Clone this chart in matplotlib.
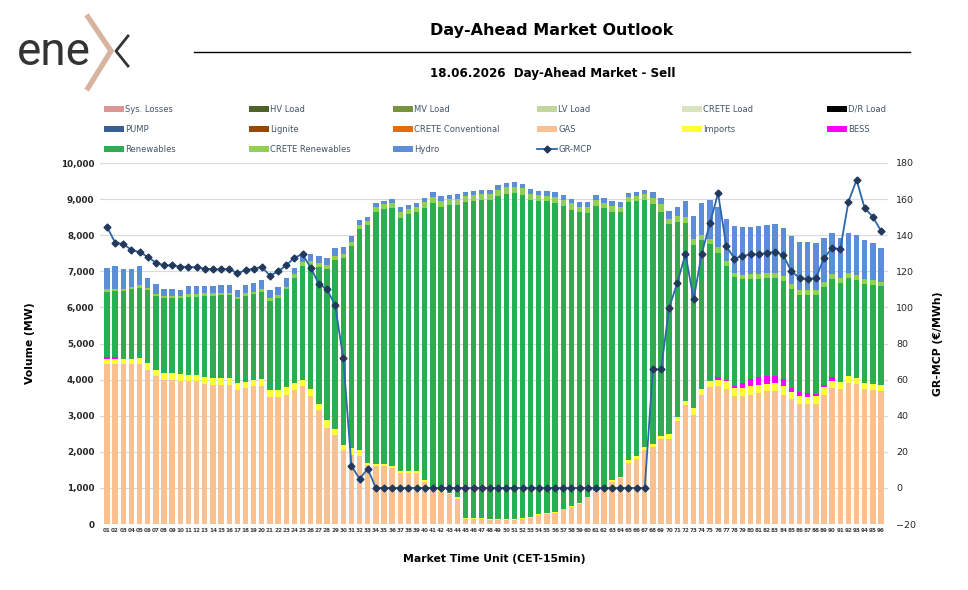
import matplotlib
matplotlib.use("Agg")
import matplotlib.pyplot as plt
from matplotlib.lines import Line2D
from matplotlib.patches import Patch

# ---------------- data ----------------
mtu = [f"{i:02d}" for i in range(1, 97)]

gas = [4420, 4420, 4420, 4420, 4420, 4260, 4090, 4000, 4000, 3960, 3950, 3950,
       3890, 3860, 3860, 3860, 3700, 3760, 3815, 3830, 3520, 3520, 3580, 3700,
       3815, 3555, 3150, 2660, 2470, 2055, 1915, 1890, 1640, 1595, 1595, 1545,
       1425, 1425, 1425, 1150, 945, 900, 825, 705, 130, 130, 130, 110,
       110, 110, 110, 130, 155, 250, 280, 315, 405, 480, 555, 740,
       900, 915, 1150, 1270, 1685, 1795, 2055, 2130, 2350, 2360, 2845, 3285,
       3030, 3585, 3795, 3815, 3740, 3555, 3555, 3585, 3630, 3675, 3675, 3585,
       3465, 3335, 3335, 3335, 3585, 3770, 3740, 3905, 3890, 3740, 3720, 3675]

imports = [155, 155, 155, 160, 170, 195, 165, 185, 185, 195, 185, 185,
           185, 185, 185, 185, 205, 185, 185, 200, 200, 200, 205, 205,
           185, 185, 185, 210, 160, 140, 180, 150, 45, 70, 70, 50,
           30, 30, 30, 55, 45, 45, 30, 35, 30, 30, 30, 30,
           30, 30, 30, 30, 30, 20, 15, 15, 15, 15, 15, 15,
           15, 20, 55, 45, 95, 95, 75, 90, 95, 130, 120, 110,
           185, 155, 160, 165, 225, 215, 215, 230, 230, 215, 230, 230,
           185, 205, 185, 200, 205, 195, 205, 185, 145, 165, 165, 175]

bess = [45, 45, 0, 0, 0, 0, 0, 0, 0, 0, 0, 0,
        0, 0, 0, 0, 0, 0, 0, 0, 0, 0, 0, 0,
        0, 0, 0, 0, 0, 0, 0, 0, 0, 0, 0, 0,
        0, 0, 0, 0, 0, 0, 0, 0, 0, 0, 0, 0,
        0, 0, 0, 0, 0, 0, 0, 0, 0, 0, 0, 0,
        0, 0, 0, 0, 0, 0, 0, 0, 0, 0, 0, 0,
        0, 0, 0, 85, 35, 65, 140, 205, 215, 220, 205, 205,
        120, 110, 110, 75, 65, 110, 0, 0, 0, 0, 0, 0]

renewables = [1805, 1825, 1870, 1920, 1955, 2025, 2055, 2075, 2075, 2100, 2165, 2165,
              2250, 2280, 2285, 2285, 2315, 2370, 2360, 2400, 2455, 2540, 2715, 2915,
              3150, 3410, 3795, 4185, 4685, 5160, 5610, 6130, 6600, 6965, 7055, 7165,
              7035, 7120, 7175, 7555, 7890, 7835, 7980, 8110, 8765, 8795, 8820, 8840,
              8955, 9000, 9025, 8950, 8795, 8685, 8640, 8575, 8395, 8210, 8060, 7855,
              7900, 7805, 7450, 7315, 7130, 7045, 6850, 6640, 6205, 5815, 5405, 4955,
              4520, 4120, 3795, 3455, 3150, 3020, 2870, 2760, 2720, 2715, 2715, 2710,
              2730, 2695, 2705, 2720, 2715, 2705, 2740, 2720, 2720, 2730, 2730, 2740]

crete_renewables = [75, 75, 75, 65, 75, 65, 65, 65, 65, 65, 65, 65,
                    65, 65, 75, 75, 75, 75, 65, 75, 75, 75, 65, 95,
                    100, 130, 110, 110, 110, 120, 120, 110, 110, 140, 140, 130,
                    155, 150, 155, 150, 165, 175, 165, 165, 150, 155, 150, 150,
                    165, 185, 175, 185, 160, 155, 160, 165, 165, 175, 155, 160,
                    165, 165, 160, 155, 140, 160, 160, 160, 210, 140, 150, 165,
                    155, 140, 155, 140, 140, 110, 130, 155, 140, 140, 140, 140,
                    140, 140, 150, 150, 140, 140, 140, 130, 140, 140, 140, 110]

hydro = [600, 620, 530, 510, 520, 280, 280, 195, 195, 175, 215, 240,
         195, 195, 225, 225, 175, 220, 240, 250, 220, 220, 240, 185,
         200, 210, 185, 215, 230, 185, 140, 150, 120, 110, 100, 110,
         150, 120, 120, 130, 140, 120, 110, 140, 130, 120, 120, 120,
         130, 120, 120, 120, 140, 120, 120, 130, 130, 120, 140, 140,
         130, 130, 140, 140, 120, 110, 110, 185, 160, 230, 250, 435,
         630, 905, 1065, 1110, 1155, 1295, 1305, 1305, 1325, 1315, 1335, 1325,
         1325, 1335, 1335, 1295, 1215, 1140, 1100, 1110, 1100, 1085, 1035, 935]

gr_mcp = [144.6, 135.9, 135.0, 131.9, 130.6, 128.0, 124.8, 123.3, 123.3, 122.6, 122.4, 122.2,
          121.5, 121.1, 121.1, 121.3, 118.9, 120.6, 121.5, 122.4, 117.6, 120.0, 123.3, 127.6,
          129.4, 122.0, 113.1, 110.0, 101.3, 71.7, 12.2, 5.0, 10.6, 0.0, 0.0, 0.0,
          0.0, 0.0, 0.0, 0.0, 0.0, 0.0, 0.0, 0.0, 0.0, 0.0, 0.0, 0.0,
          0.0, 0.0, 0.0, 0.0, 0.0, 0.0, 0.0, 0.0, 0.0, 0.0, 0.0, 0.0,
          0.0, 0.0, 0.0, 0.0, 0.0, 0.0, 0.0, 65.6, 65.6, 99.8, 113.7, 129.6,
          104.4, 129.8, 146.5, 163.3, 134.1, 127.0, 128.5, 129.4, 129.4, 130.2, 130.7, 128.9,
          120.0, 116.3, 115.6, 116.3, 127.2, 133.0, 132.2, 158.5, 170.6, 155.0, 150.2, 142.4]

legend_labels = ["Sys. Losses", "HV Load", "MV Load", "LV Load", "CRETE Load", "D/R Load",
                 "PUMP", "Lignite", "CRETE Conventional", "GAS", "Imports", "BESS",
                 "Renewables", "CRETE Renewables", "Hydro", "GR-MCP"]

colors = {
    "Sys. Losses": "#D99694", "HV Load": "#4F6228", "MV Load": "#77933C",
    "LV Load": "#C3D69B", "CRETE Load": "#D7E4BD", "D/R Load": "#000000",
    "PUMP": "#366092", "Lignite": "#974806", "CRETE Conventional": "#E46C0A",
    "GAS": "#FAC090", "Imports": "#FFFF33", "BESS": "#FF00FF",
    "Renewables": "#2BAE4F", "CRETE Renewables": "#92D050", "Hydro": "#5B8ED6",
}
line_color = "#2A67AD"
marker_color = "#23395B"

# ---------------- figure ----------------
W, H = 968, 590
fig = plt.figure(figsize=(W / 100, H / 100), dpi=100)
fig.patch.set_facecolor("white")

def fx(px):
    return px / W

def fy(py):
    return 1 - py / H

ax = fig.add_axes([fx(100), fy(524), fx(888) - fx(100), fy(163) - fy(524)])
x = list(range(1, 97))
bw = 0.66

stack = [("GAS", gas), ("Imports", imports), ("BESS", bess),
         ("Renewables", renewables), ("CRETE Renewables", crete_renewables),
         ("Hydro", hydro)]
bottom = [0.0] * 96
for name, vals in stack:
    ax.bar(x, vals, bw, bottom=bottom, color=colors[name], linewidth=0, zorder=2)
    bottom = [b + v for b, v in zip(bottom, vals)]

ax.set_xlim(0.14, 96.86)
ax.set_ylim(0, 10000)
ax.set_yticks(range(0, 10001, 1000))
ax.set_yticklabels([f"{v:,}" for v in range(0, 10001, 1000)])
ax.set_xticks(x)
ax.set_xticklabels(mtu)
ax.grid(axis="y", color="#D9D9D9", linewidth=0.8, zorder=0)
ax.set_axisbelow(True)
for s in ax.spines.values():
    s.set_visible(False)
ax.tick_params(axis="y", length=0, labelsize=6.3, labelcolor="#262626", pad=4)
for t in ax.get_yticklabels():
    t.set_fontweight("bold")
ax.tick_params(axis="x", length=0, labelsize=4.1, labelcolor="#404040", pad=3)
for t in ax.get_xticklabels():
    t.set_fontweight("bold")

ax2 = ax.twinx()
ax2.plot(x, gr_mcp, color=line_color, linewidth=1.3, marker="D", markersize=3.5,
         markerfacecolor=marker_color, markeredgecolor=marker_color, zorder=5)
ax2.set_ylim(-20, 180)
ax2.set_yticks(range(-20, 181, 20))
for s in ax2.spines.values():
    s.set_visible(False)
ax2.tick_params(axis="y", length=0, labelsize=6.8, labelcolor="#262626", pad=6)

ax.set_xlabel("Market Time Unit (CET-15min)", fontsize=7.8, fontweight="bold",
              color="#000000", labelpad=15)
ax.set_ylabel("Volume (MW)", fontsize=7.8, fontweight="bold", color="#000000", labelpad=19)
ax2.set_ylabel("GR-MCP (€/MWh)", fontsize=7.8, fontweight="bold", color="#000000", labelpad=12)

# ---------------- titles ----------------
fig.text(fx(552), fy(30), "Day-Ahead Market Outlook", ha="center", va="center",
         fontsize=11.5, fontweight="bold", color="#000000")
fig.add_artist(Line2D([fx(194), fx(910)], [fy(52), fy(52)], color="#000000", linewidth=1.0))
fig.text(fx(553), fy(73), "18.06.2026  Day-Ahead Market - Sell", ha="center", va="center",
         fontsize=8.6, fontweight="bold", color="#000000")

# ---------------- logo ----------------
fig.text(fx(17), fy(52), "ene", ha="left", va="center", fontsize=33,
         family=["Roboto", "Lato", "DejaVu Sans"], fontweight="normal", color="#333333")
fig.add_artist(Line2D([fx(88), fx(111), fx(88)], [fy(17), fy(51), fy(88)],
                      color="#D8B4A0", linewidth=3.8, solid_joinstyle="miter"))
fig.add_artist(Line2D([fx(128), fx(116), fx(128)], [fy(36), fy(51), fy(66)],
                      color="#333333", linewidth=2.0))

# ---------------- legend (row-major, six columns) ----------------
col_x = [104, 249, 393, 537, 682, 827]
handles = {}
for name in legend_labels[:-1]:
    handles[name] = Patch(facecolor=colors[name], edgecolor="none")
handles["GR-MCP"] = Line2D([0], [0], color=line_color, linewidth=1.3, marker="D",
                           markersize=3.5, markerfacecolor=marker_color,
                           markeredgecolor=marker_color)
for c in range(6):
    names = [legend_labels[r * 6 + c] for r in range(3) if r * 6 + c < len(legend_labels)]
    fig.legend([handles[n] for n in names], names, loc="upper left",
               bbox_to_anchor=(fx(col_x[c]), fy(105)), frameon=False,
               fontsize=6.0, labelcolor="#44546A", handlelength=2.4,
               handleheight=0.8, handletextpad=0.15, labelspacing=1.3,
               borderpad=0, borderaxespad=0)

fig.savefig("out.png", dpi=100, facecolor="white")
